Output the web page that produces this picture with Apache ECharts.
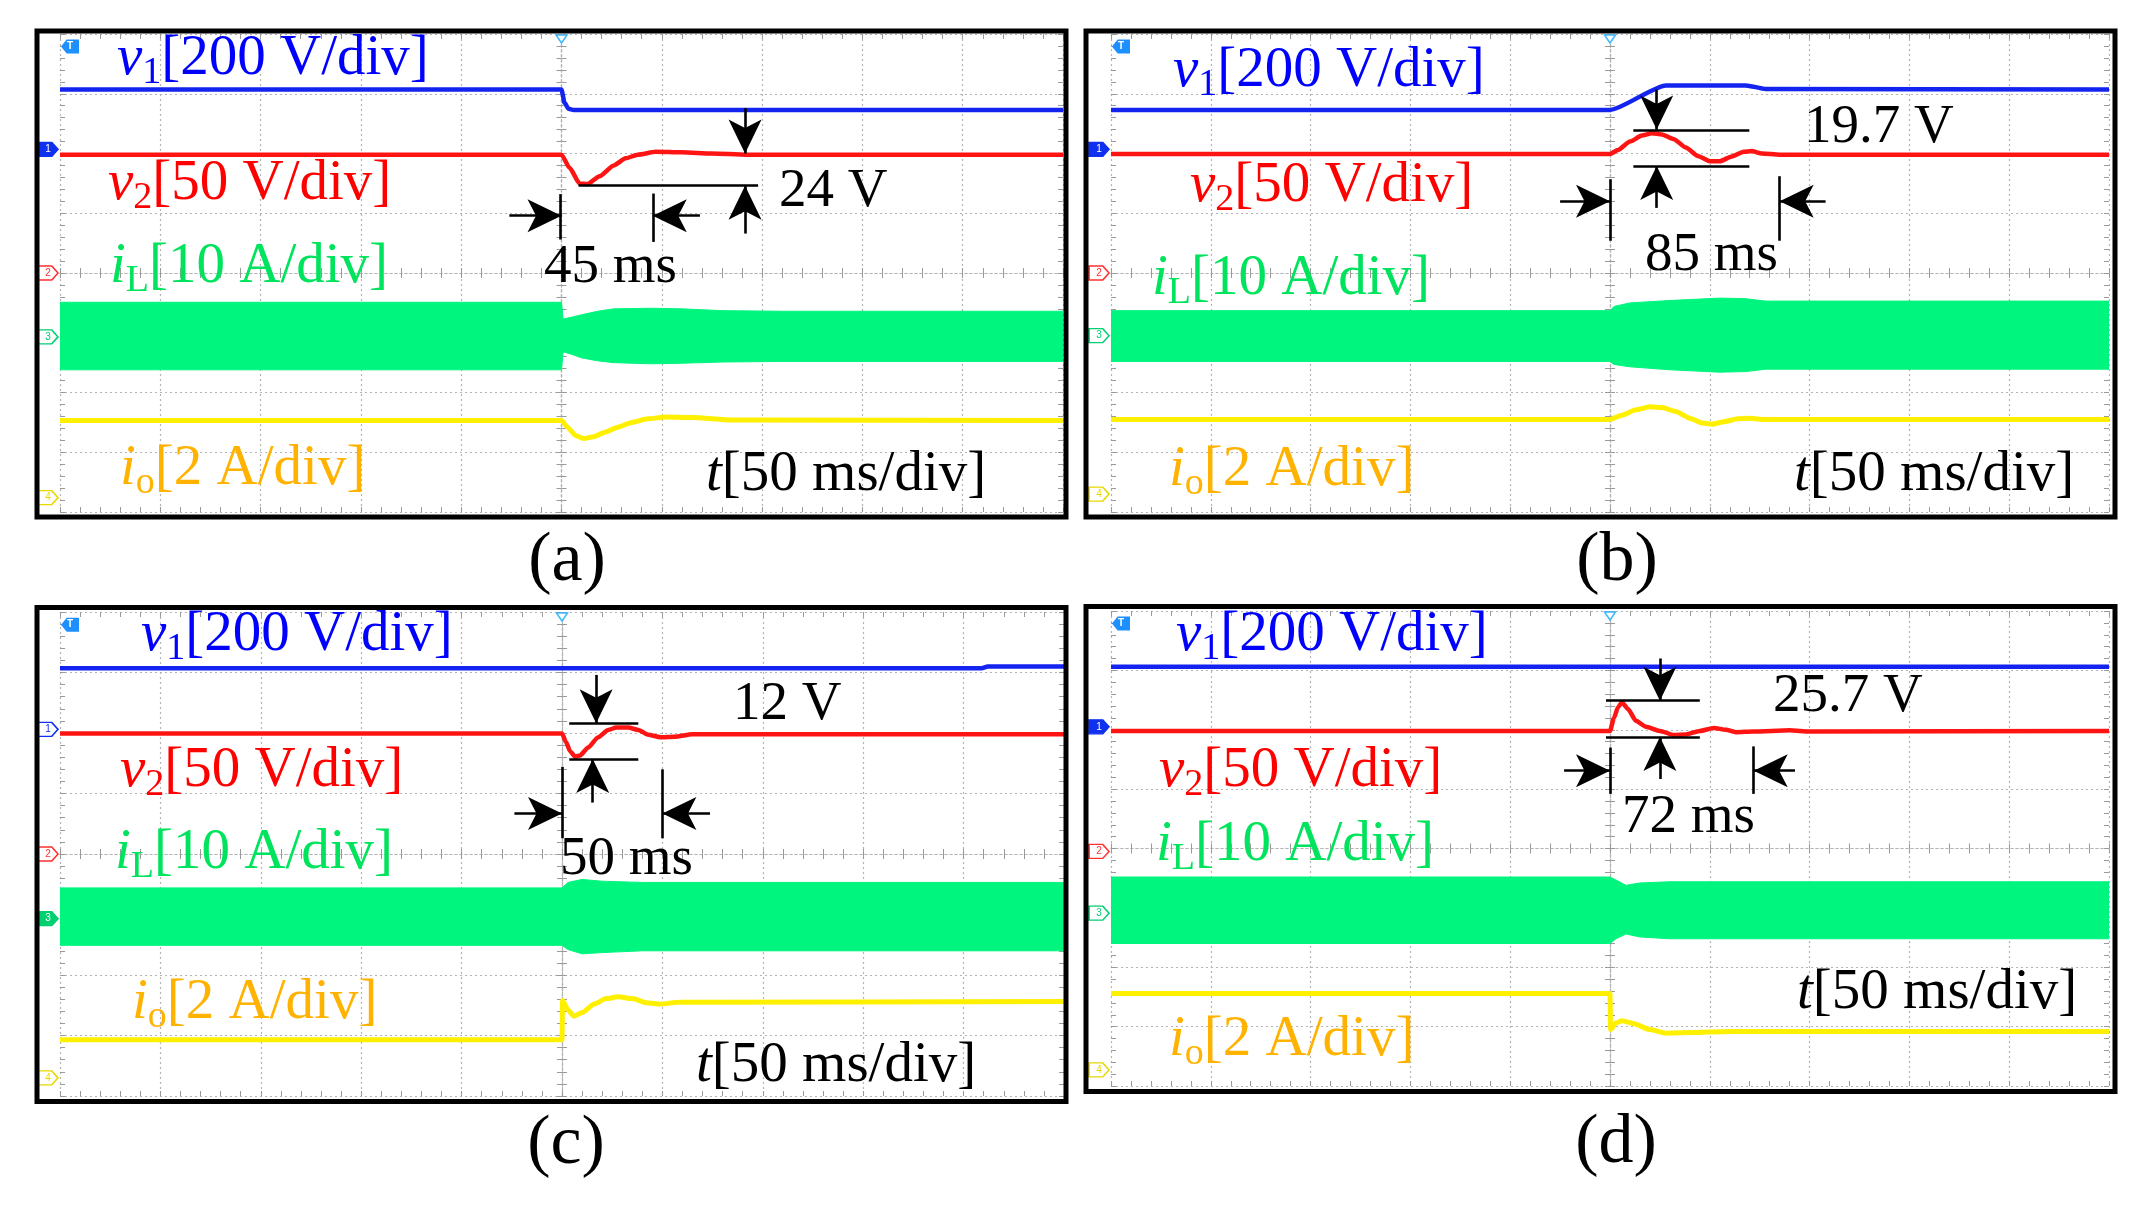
<!DOCTYPE html>
<html><head><meta charset="utf-8">
<script src="https://cdn.jsdelivr.net/npm/echarts@6.0.0/dist/echarts.min.js"></script>
<style>html,body{margin:0;padding:0;background:#fff}#c{width:2140px;height:1205px}</style>
</head><body><div id="c"></div>
<script>
// ---------- axes (time in ms relative to trigger, amplitude in divisions from screen centre) ----------
const tMin = -250, tMax = 250, tStep = 50;
const dMin = -4, dMax = 4, dStep = 1;

// ---------- labels ----------
const captions = ['(a)', '(b)', '(c)', '(d)'];
const traceLabelTexts = [
  ['v', '1', '[200 V/div]'],
  ['v', '2', '[50 V/div]'],
  ['i', 'L', '[10 A/div]'],
  ['i', 'o', '[2 A/div]'],
  ['t', '', '[50 ms/div]']
];
const notesA = ['45 ms', '24 V'];
const notesB = ['19.7 V', '85 ms'];
const notesC = ['12 V', '50 ms'];
const notesD = ['25.7 V', '72 ms'];

// ---------- panel (a) ----------
const a_v1 = [[-250,3.07],[0,3.07],[1.5,2.85],[3.5,2.75],[6,2.73],[250,2.73]];
const a_v2 = [[-250,1.98],[0,1.98],[4,1.76],[9,1.50],[13,1.49],[19,1.62],[26,1.80],[32,1.92],[38,1.98],[47,2.03],[60,2.02],[75,2.0],[92,1.98],[250,1.98]];
const a_iL = [[-250,-0.49,-1.62],[0,-0.49,-1.62],[0.8,-0.77,-1.32],[5,-0.74,-1.36],[10,-0.70,-1.42],[18,-0.64,-1.47],[26,-0.60,-1.50],[45,-0.59,-1.52],[60,-0.60,-1.51],[80,-0.63,-1.49],[110,-0.64,-1.48],[250,-0.64,-1.48]];
const a_io = [[-250,-2.47],[0,-2.47],[3,-2.58],[7,-2.72],[11,-2.77],[16,-2.74],[22,-2.66],[28,-2.58],[35,-2.50],[43,-2.44],[52,-2.41],[65,-2.42],[85,-2.46],[250,-2.47]];
const a_arrows = [[[91.5,2.76],[91.5,2.0]],[[91.5,0.66],[91.5,1.46]],[[-26,0.96],[0,0.96]],[[69,0.96],[45.5,0.96]]];
const a_lines = [[[8.5,1.47],[98,1.47]],[[-0.5,1.32],[-0.5,0.56]],[[45.5,1.33],[45.5,0.52]]];
const a_markers = [[1,2.07,true],[2,0,false],[3,-1.07,false],[4,-3.76,false]];

// ---------- panel (b) ----------
const b_v1 = [[-250,2.73],[0,2.73],[28,3.14],[68,3.14],[78,3.08],[250,3.07]];
const b_v2 = [[-250,1.99],[0,1.99],[4,2.06],[10,2.2],[16,2.3],[21,2.34],[26,2.32],[32,2.24],[38,2.1],[44,1.96],[50,1.87],[55,1.87],[61,1.95],[67,2.03],[71,2.04],[76,2.0],[85,1.98],[250,1.98]];
const b_iL = [[-250,-0.63,-1.48],[0,-0.63,-1.48],[2,-0.56,-1.53],[10,-0.50,-1.57],[30,-0.46,-1.62],[55,-0.42,-1.66],[68,-0.43,-1.65],[78,-0.47,-1.61],[250,-0.47,-1.61]];
const b_io = [[-250,-2.45],[0,-2.45],[6,-2.38],[13,-2.29],[20,-2.24],[26,-2.25],[33,-2.32],[40,-2.43],[46,-2.51],[51,-2.53],[57,-2.49],[64,-2.44],[70,-2.43],[76,-2.45],[250,-2.45]];
const b_arrows = [[[23.4,3.07],[23.4,2.40]],[[23.4,1.09],[23.4,1.79]],[[-25,1.2],[0,1.2]],[[108,1.2],[85,1.2]]];
const b_lines = [[[11.7,2.39],[69.8,2.39]],[[11.7,1.79],[69.8,1.79]],[[0,1.57],[0,0.54]],[[85,1.62],[85,0.54]]];
const b_markers = [[1,2.07,true],[2,0,false],[3,-1.05,false],[4,-3.7,false]];

// ---------- panel (c) ----------
const c_v1 = [[-250,3.07],[209,3.07],[212,3.10],[250,3.10]];
const c_v2 = [[-250,1.99],[0,1.99],[2,1.85],[4,1.70],[6.5,1.61],[9,1.63],[13,1.76],[18,1.93],[23,2.05],[27,2.09],[33,2.09],[38,2.05],[43,1.97],[49,1.93],[56,1.94],[65,1.98],[250,1.98]];
const c_iL = [[-250,-0.56,-1.51],[0,-0.56,-1.51],[3,-0.47,-1.58],[10,-0.42,-1.65],[20,-0.45,-1.63],[40,-0.47,-1.60],[250,-0.47,-1.60]];
const c_io = [[-250,-3.07],[0,-3.07],[0.3,-2.42],[3,-2.58],[6,-2.68],[10,-2.62],[16,-2.48],[22,-2.39],[28,-2.36],[35,-2.39],[42,-2.46],[49,-2.48],[58,-2.45],[250,-2.44]];
const c_arrows = [[[17,2.96],[17,2.16]],[[15.3,0.85],[15.3,1.57]],[[-23.7,0.67],[0,0.67]],[[73.7,0.67],[50,0.67]]];
const c_lines = [[[3.6,2.16],[38,2.16]],[[3.6,1.57],[38,1.57]],[[0,1.44],[0,0.26]],[[50,1.40],[50,0.26]]];
const c_markers = [[1,2.06,false],[2,0,false],[3,-1.07,true],[4,-3.7,false]];

// ---------- panel (d) ----------
const d_v1 = [[-250,3.06],[250,3.06]];
const d_v2 = [[-250,1.98],[0,1.98],[2,2.2],[4,2.38],[6,2.46],[9,2.35],[13,2.15],[18,2.05],[25,1.98],[32,1.91],[38,1.92],[45,1.98],[52,2.03],[58,2.0],[63,1.96],[72,1.97],[90,1.99],[100,1.97],[250,1.98]];
const d_iL = [[-250,-0.48,-1.60],[0,-0.48,-1.60],[3,-0.53,-1.52],[8,-0.62,-1.44],[15,-0.58,-1.49],[30,-0.56,-1.52],[250,-0.56,-1.52]];
const d_io = [[-250,-2.44],[0,-2.44],[0.3,-3.05],[3,-2.94],[6,-2.90],[12,-2.95],[20,-3.05],[28,-3.11],[40,-3.10],[60,-3.08],[250,-3.08]];
const d_arrows = [[[25,3.2],[25,2.49]],[[25,1.17],[25,1.88]],[[-23,1.31],[0,1.31]],[[92.7,1.31],[72,1.31]]];
const d_lines = [[[-2,2.49],[45,2.49]],[[-2,1.88],[45,1.88]],[[0,1.70],[0,0.92]],[[72,1.72],[72,0.92]]];
const d_markers = [[1,2.05,true],[2,-0.05,false],[3,-1.09,false],[4,-3.73,false]];

const trigLevel = 3.79;

// ---------- layout (pixels) ----------
const LAYOUT = {
  grids: [[60,34,1003,478],[1111,34,998,478],[60,612,1004,484],[1111,611,998,475]],
  frames: [[37,31,1029,486],[1086,31,1029,486],[37,607.5,1029,494],[1086,606.5,1029,485]],
  captions: [[567,562],[1617,562],[566,1145],[1616,1144]],
  traceLabels: [
    [[117,59],[108,184],[110,267],[120,469],[706,475]],
    [[1173,71],[1190,186],[1152,279],[1169,470],[1794,475]],
    [[141,635],[120,771],[115,853],[132,1003],[696,1066]],
    [[1176,635],[1159,771],[1156,845],[1169,1040],[1797,993]]
  ],
  notes: [
    [[544,268],[779,192]],
    [[1804,128],[1645,256]],
    [[733,705],[560,860]],
    [[1773,697],[1622,818]]
  ]
};

const panels = [
  {v1:a_v1, v2:a_v2, iL:a_iL, io:a_io, arrows:a_arrows, lines:a_lines, markers:a_markers, notes:notesA},
  {v1:b_v1, v2:b_v2, iL:b_iL, io:b_io, arrows:b_arrows, lines:b_lines, markers:b_markers, notes:notesB},
  {v1:c_v1, v2:c_v2, iL:c_iL, io:c_io, arrows:c_arrows, lines:c_lines, markers:c_markers, notes:notesC},
  {v1:d_v1, v2:d_v2, iL:d_iL, io:d_io, arrows:d_arrows, lines:d_lines, markers:d_markers, notes:notesD}
];

// ---------- styles ----------
const FONT = '"Liberation Serif","Times New Roman",serif';
const GREEN = '#00F57F', BLUE = '#1424F0', RED = '#FF1414', YELLOW = '#FFF000';
const LABEL_COLORS = ['#0000FF', '#FF0000', '#00E35C', '#FFB300', '#000000'];
const CH_COLORS = {1:'#1030F0', 2:'#FF3030', 3:'#00D070', 4:'#E8D800'};
const GRID_COLOR = '#B4B4B4', TICK_COLOR = '#9A9A9A';
const TICK_LEN = 5;
const ARROW_HEAD = 'path://M12,0L24,32L12,24L0,32Z';
const ARROW_SIZE = [33, 34];

function xAx(g, pos, inside, onZeroIdx, split) {
  const ax = {
    type: 'value', gridIndex: g, min: tMin, max: tMax, interval: tStep, position: pos,
    axisLine: {show: onZeroIdx != null, onZero: onZeroIdx != null, lineStyle: {color: GRID_COLOR, type: [2,3], width: 1.2}},
    axisTick: {show: true, inside: inside, length: TICK_LEN, lineStyle: {color: TICK_COLOR, width: 1}},
    minorTick: {show: true, splitNumber: 5, length: TICK_LEN, lineStyle: {color: TICK_COLOR, width: 1}},
    axisLabel: {show: false},
    splitLine: {show: split, lineStyle: {color: GRID_COLOR, type: [2,3], width: 1.2}},
    minorSplitLine: {show: false}
  };
  if (onZeroIdx != null) ax.axisLine.onZeroAxisIndex = onZeroIdx;
  return ax;
}
function yAx(g, pos, inside, onZeroIdx, split) {
  const ax = xAx(g, pos, inside, onZeroIdx, split);
  ax.min = dMin; ax.max = dMax; ax.interval = dStep;
  return ax;
}

const grids = [], xAxes = [], yAxes = [], series = [], graphics = [];

panels.forEach((p, g) => {
  const gr = LAYOUT.grids[g];
  grids.push({left: gr[0], top: gr[1], width: gr[2], height: gr[3], show: false});
  const xi = 4 * g, yi = 4 * g;
  xAxes.push(xAx(g, 'bottom', true, null, true));
  xAxes.push(xAx(g, 'top', true, null, false));
  xAxes.push(xAx(g, 'bottom', true, yi, false));
  xAxes.push(xAx(g, 'bottom', false, yi, false));
  yAxes.push(yAx(g, 'left', true, null, true));
  yAxes.push(yAx(g, 'right', true, null, false));
  yAxes.push(yAx(g, 'left', true, xi, false));
  yAxes.push(yAx(g, 'left', false, xi, false));

  const base = {type: 'line', xAxisIndex: xi, yAxisIndex: yi, symbol: 'none', silent: true, animation: false, smooth: 0.2, smoothMonotone: 'x'};

  // inductor current: filled envelope band (upper/lower envelope through the axes' scales)
  const env = p.iL;
  series.push({
    type: 'custom', name: 'iL_' + g, xAxisIndex: xi, yAxisIndex: yi, silent: true, animation: false, clip: true, z: 1,
    data: env.map(d => [d[0], d[1], d[2]]),
    encode: {x: 0, y: [1, 2]},
    renderItem: function (params, api) {
      if (params.dataIndex !== 0) return null;
      const top = env.map(d => api.coord([d[0], d[1]]));
      const bot = env.slice().reverse().map(d => api.coord([d[0], d[2]]));
      return {type: 'polygon', shape: {points: top.concat(bot)}, style: {fill: GREEN, stroke: GREEN, lineWidth: 1}};
    }
  });
  // output current
  series.push(Object.assign({}, base, {
    name: 'io_' + g, data: p.io, lineStyle: {width: 5, color: YELLOW}, z: 2
  }));
  // v2 carries the dimension arrows
  series.push(Object.assign({}, base, {
    name: 'v2_' + g, data: p.v2, lineStyle: {width: 4.5, color: RED}, z: 3,
    markLine: {silent: true, animation: false, symbol: ['none', 'none'], precision: 4,
      lineStyle: {color: '#000', width: 2.6, type: 'solid'}, itemStyle: {color: '#000'},
      label: {show: false}, emphasis: {disabled: true},
      data: p.arrows.map(a => [
        {coord: a[0], symbol: 'none'},
        {coord: a[1], symbol: ARROW_HEAD, symbolSize: ARROW_SIZE, symbolKeepAspect: false, symbolOffset: [0, ARROW_SIZE[1] / 2]}
      ]), z: 10}
  }));
  // v1 carries the reference lines and scope channel markers
  const mp = p.markers.map(m => ({
    coord: [tMin, m[1]], symbol: 'path://M0,0L13,0L19,7L13,14L0,14Z', symbolSize: [20, 14], symbolOffset: [-12, 0],
    itemStyle: {color: m[2] ? CH_COLORS[m[0]] : '#FFFFFF', borderColor: CH_COLORS[m[0]], borderWidth: 1.5},
    label: {show: true, position: 'inside', formatter: String(m[0]), fontSize: 10, fontFamily: 'Arial', color: m[2] ? '#FFFFFF' : CH_COLORS[m[0]]}
  }));
  mp.push({coord: [tMin, trigLevel], symbol: 'path://M6,0L19,0L19,14L6,14L0,7Z', symbolSize: [18, 14], symbolOffset: [10, 0],
    itemStyle: {color: '#1E8FFF'}, label: {show: true, position: 'inside', formatter: 'T', color: '#FFFFFF', fontSize: 10, fontWeight: 'bold', fontFamily: 'Arial'}});
  mp.push({coord: [0, dMax], symbol: 'triangle', symbolRotate: 180, symbolSize: [11, 8], symbolOffset: [0, 5],
    itemStyle: {color: '#FFFFFF', borderColor: '#3FB8FF', borderWidth: 1.5}, label: {show: false}});
  series.push(Object.assign({}, base, {
    name: 'v1_' + g, data: p.v1, lineStyle: {width: 4.5, color: BLUE}, z: 3,
    markLine: {silent: true, animation: false, symbol: ['none', 'none'], precision: 4,
      lineStyle: {color: '#000', width: 2.6, type: 'solid'}, label: {show: false}, emphasis: {disabled: true},
      data: p.lines.map(l => [{coord: l[0]}, {coord: l[1]}]), z: 10},
    markPoint: {silent: true, animation: false, data: mp, z: 12}
  }));

  // frame
  const fr = LAYOUT.frames[g];
  graphics.push({type: 'rect', silent: true, z: 40, shape: {x: fr[0], y: fr[1], width: fr[2], height: fr[3]},
    style: {fill: 'none', stroke: '#000', lineWidth: 5}});
  // trace labels
  traceLabelTexts.forEach((parts, k) => {
    const pos = LAYOUT.traceLabels[g][k];
    const col = LABEL_COLORS[k];
    graphics.push({type: 'text', silent: true, z: 50, x: pos[0], y: pos[1], style: {
      text: '{a|' + parts[0] + '}' + (parts[1] ? '{b|' + parts[1] + '}' : '') + '{c|' + parts[2] + '}',
      align: 'left', verticalAlign: 'middle',
      rich: {
        a: {fontFamily: FONT, fontStyle: 'italic', fontSize: 57, fill: col},
        b: {fontFamily: FONT, fontSize: 38, fill: col, padding: [28, 0, 0, 0]},
        c: {fontFamily: FONT, fontSize: 57, fill: col}
      }}});
  });
  // annotation values
  p.notes.forEach((txt, k) => {
    const pos = LAYOUT.notes[g][k];
    graphics.push({type: 'text', silent: true, z: 50, x: pos[0], y: pos[1], style: {
      text: txt, align: 'left', verticalAlign: 'middle', fontFamily: FONT, fontSize: 55, fill: '#000'}});
  });
  // caption
  const cp = LAYOUT.captions[g];
  graphics.push({type: 'text', silent: true, z: 50, x: cp[0], y: cp[1], style: {
    text: captions[g], align: 'center', verticalAlign: 'middle', fontFamily: FONT, fontSize: 70, fill: '#000'}});
});

const chart = echarts.init(document.getElementById('c'), null, {renderer: 'canvas', width: 2140, height: 1205});
chart.setOption({
  backgroundColor: '#FFFFFF',
  animation: false,
  tooltip: {show: false},
  legend: {show: false},
  grid: grids,
  xAxis: xAxes,
  yAxis: yAxes,
  series: series,
  graphic: graphics
});
</script>
</body></html>
